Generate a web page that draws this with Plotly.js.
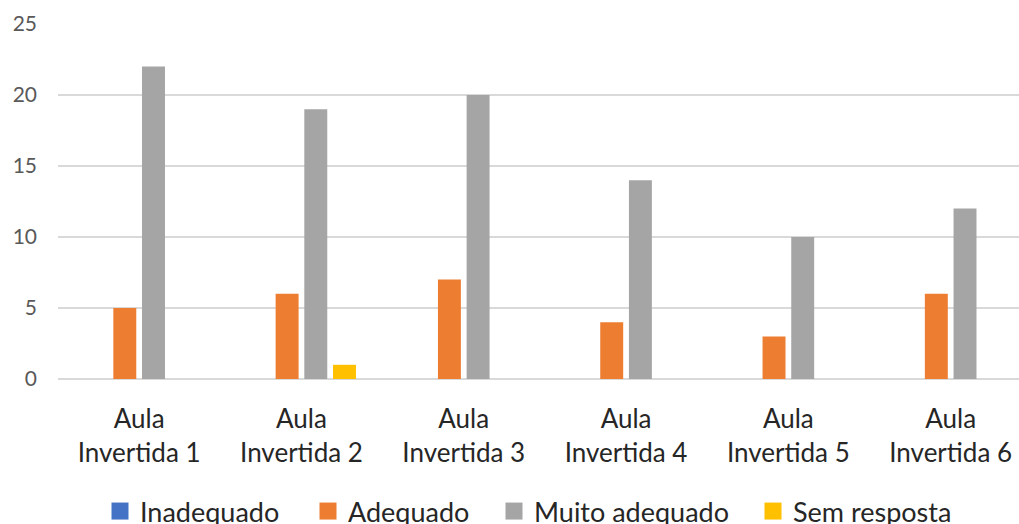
<!DOCTYPE html>
<html>
<head>
<meta charset="utf-8">
<script src="https://cdn.plot.ly/plotly-3.0.1.min.js"></script>
<style>
  html, body { margin: 0; padding: 0; background: #fff; }
  #chart { width: 1019px; height: 524px; }
</style>
</head>
<body>
<div id="chart"></div>
<script>
// Avaliação das aulas invertidas
const categories = [
  "Aula<br>Invertida 1", "Aula<br>Invertida 2", "Aula<br>Invertida 3",
  "Aula<br>Invertida 4", "Aula<br>Invertida 5", "Aula<br>Invertida 6"
];
const seriesNames = ["Inadequado", "Adequado", "Muito adequado", "Sem resposta"];
const inadequado = [0, 0, 0, 0, 0, 0];
const adequado = [5, 6, 7, 4, 3, 6];
const muitoAdequado = [22, 19, 20, 14, 10, 12];
const semResposta = [0, 1, 0, 0, 0, 0];
const yTicks = [0, 5, 10, 15, 20, 25];

const colors = ["#4472C4", "#ED7D31", "#A5A5A5", "#FFC000"];
const values = [inadequado, adequado, muitoAdequado, semResposta];
const legendIds = ["legend", "legend2", "legend3", "legend4"];
// left edge of each legend entry, in pixels of the figure
const legendLeft = [100, 308, 494, 753];

const W = 1019, H = 524;
const FONT = "Lato, 'Open Sans', sans-serif";

const traces = values.map((v, i) => ({
  type: "bar",
  name: seriesNames[i],
  x: categories,
  y: v,
  marker: { color: colors[i] },
  legend: legendIds[i],
  hoverinfo: "x+y+name"
}));

const layout = {
  width: W,
  height: H,
  margin: { l: 58, r: 0, t: 24, b: 145, pad: 0 },
  paper_bgcolor: "#ffffff",
  plot_bgcolor: "#ffffff",
  barmode: "group",
  bargap: 0.293,
  bargroupgap: 0.2,
  font: { family: FONT, color: "#404040" },
  xaxis: {
    type: "category",
    range: [-0.5, 5.421],
    showgrid: false,
    zeroline: false,
    showline: false,
    ticks: "",
    tickfont: { family: FONT, size: 26, color: "#262626" },
    ticklabelstandoff: 22,
    fixedrange: true
  },
  yaxis: {
    range: [0, 25],
    tickvals: yTicks,
    ticktext: yTicks.map(String),
    showgrid: true,
    gridcolor: "#d9d9d9",
    gridwidth: 1.5,
    zeroline: true,
    zerolinecolor: "#d9d9d9",
    zerolinewidth: 1.5,
    showline: false,
    ticks: "",
    tickfont: { family: FONT, size: 21, color: "#595959" },
    ticklabelstandoff: 20,
    fixedrange: true
  },
  showlegend: true
};

legendIds.forEach((id, i) => {
  layout[id] = {
    orientation: "h",
    xref: "container",
    yref: "container",
    x: legendLeft[i] / W,
    xanchor: "left",
    y: 1 - 487 / H,
    yanchor: "top",
    bgcolor: "rgba(0,0,0,0)",
    borderwidth: 0,
    itemwidth: 30,
    font: { family: FONT, size: 27, color: "#262626" }
  };
});

Plotly.newPlot("chart", traces, layout, { displayModeBar: false, staticPlot: true }).then(gd => {
  // larger square swatches in the legend
  gd.querySelectorAll(".legendpoints path").forEach(p => {
    p.setAttribute("d", "M8.5,8.5H-8.5V-8.5H8.5Z");
  });
});
</script>
</body>
</html>
